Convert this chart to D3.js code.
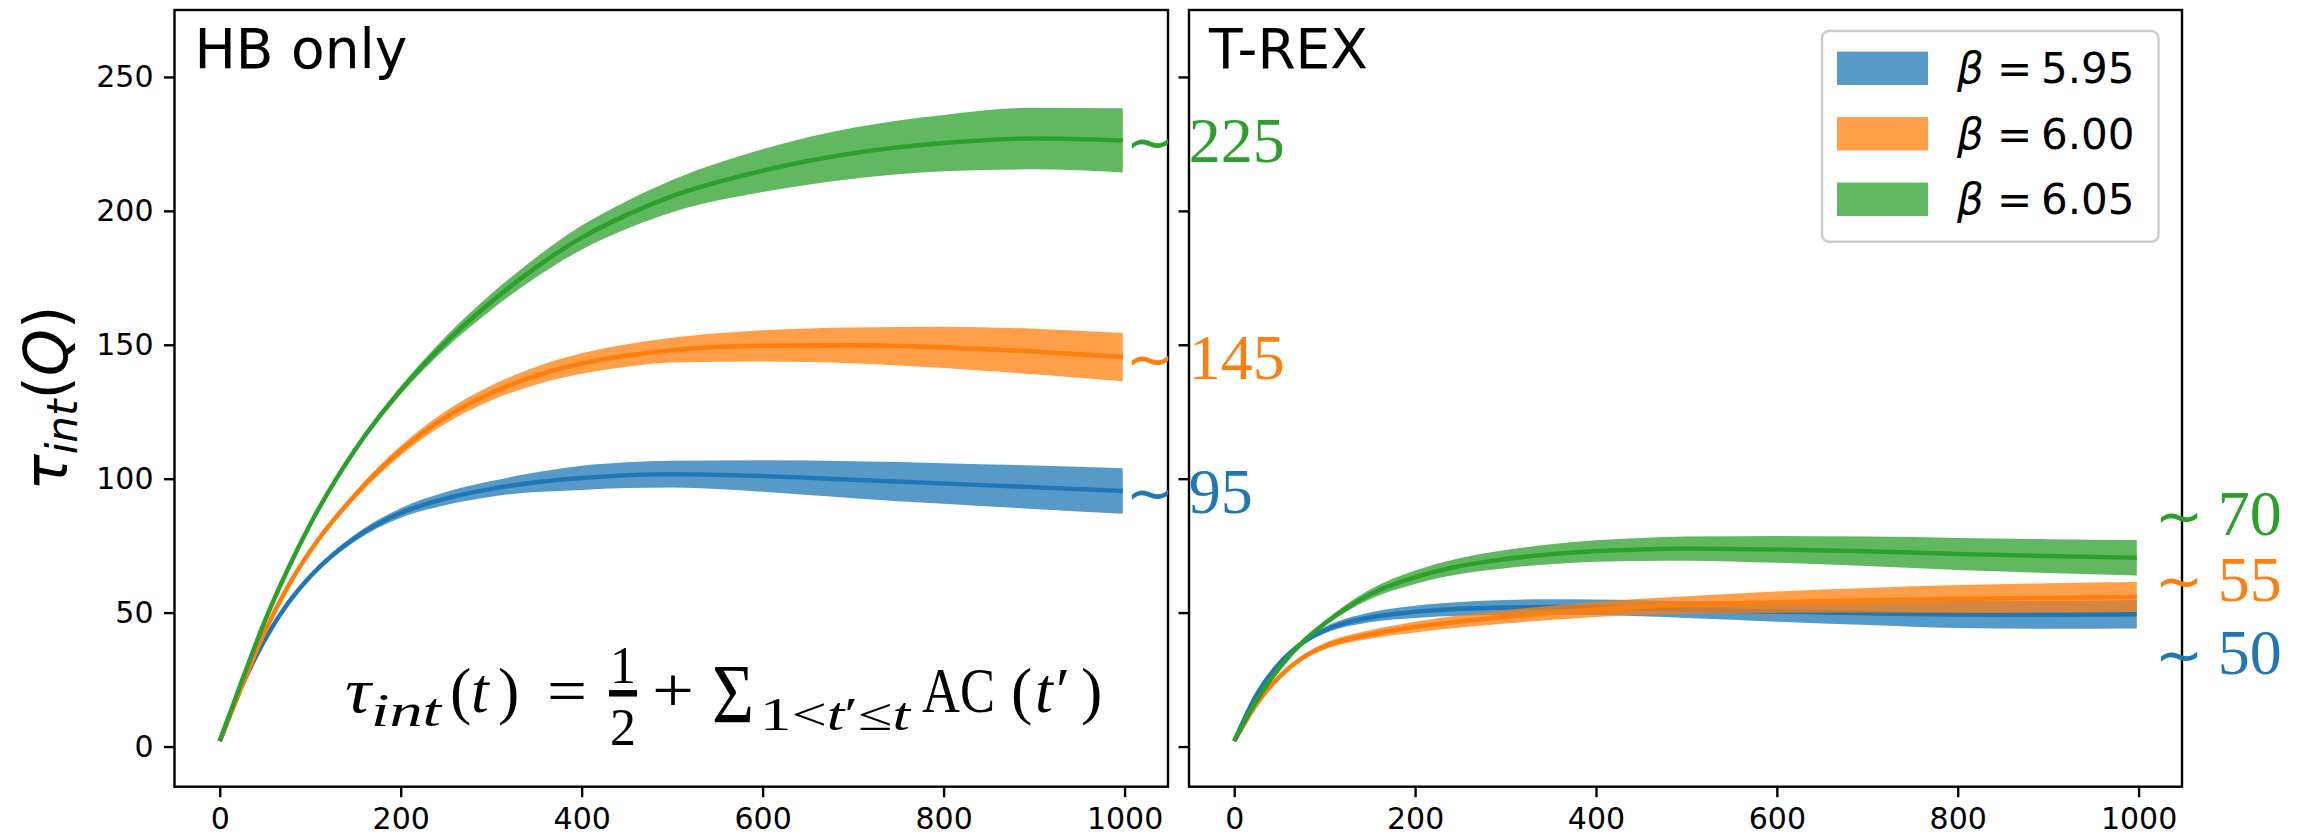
<!DOCTYPE html>
<html>
<head>
<meta charset="utf-8">
<script src="https://cdn.jsdelivr.net/npm/d3@7"></script>
<style>
  body { margin: 0; background: white; }
  svg { display: block; }
</style>
</head>
<body>
<svg id="chart"></svg>
<script>
const steps = [0, 25, 50, 75, 100, 150, 200, 250, 300, 350, 400, 450, 500, 600, 700, 800, 900, 998]

const betas = ["5.95", "6.00", "6.05"]
const colors = ["#1f77b4", "#ff7f0e", "#2ca02c"]

// HB only
const hbBlue = [2, 23, 40, 53.3, 63.5, 78, 87.2, 92.6, 96.2, 98.7, 100.3, 101.3, 101.7, 101, 99.6, 98.2, 96.8, 95.4]
const hbBlueErr = [0, 0.2, 0.3, 0.5, 0.8, 1.3, 1.8, 2.4, 2.9, 3.7, 4.5, 4.8, 5, 5.9, 6.9, 7.6, 8.1, 8.5]
const hbOrange = [2, 23, 43, 59.5, 73, 94, 110.5, 123, 132, 138.5, 143, 146, 148, 149.6, 149.8, 149, 147.5, 145.4]
const hbOrangeErr = [0, 0.2, 0.3, 0.5, 0.8, 1.3, 1.8, 2.3, 2.8, 3.3, 3.8, 4.2, 4.6, 5.8, 6.7, 7.7, 8.5, 9]
const hbGreen = [2, 25, 47, 66, 83, 111, 133, 151, 166, 179, 190, 198.5, 205.5, 215, 221.5, 225.3, 227, 226.3]
const hbGreenErr = [0, 0.2, 0.3, 0.4, 0.5, 1, 1.5, 2.2, 3, 3.7, 4.5, 5.2, 6, 8, 9.5, 10.5, 11.5, 12]

// T-REX
const trexBlue = [2, 19.5, 31, 38.6, 43.4, 48.2, 50.3, 51.4, 51.9, 52.1, 52, 51.6, 51.1, 50.4, 49.8, 49.3, 49.2, 49.4]
const trexBlueErr = [0, 0.3, 0.6, 0.9, 1.2, 1.8, 2.3, 2.6, 2.8, 2.9, 2.9, 3, 3.1, 3.8, 4.4, 5, 5.2, 5.3]
const trexOrange = [2, 16, 26, 33, 37.4, 41.8, 44.6, 46.7, 48.4, 49.9, 51.2, 52.2, 52.9, 53.9, 54.6, 55.1, 55.5, 55.8]
const trexOrangeErr = [0, 0.3, 0.6, 0.9, 1.2, 1.6, 2, 2.3, 2.5, 2.7, 2.8, 3, 3.2, 4, 4.6, 5.2, 5.5, 5.6]
const trexGreen = [2, 17.3, 29.4, 38.8, 45.9, 56.8, 63.2, 67.4, 70, 71.8, 73, 73.6, 73.9, 73.6, 72.9, 71.9, 71.1, 70.5]
const trexGreenErr = [0, 0.3, 0.5, 0.8, 1, 1.8, 2.5, 3, 3.4, 3.7, 4, 4.3, 4.5, 5, 5.5, 6, 6.3, 6.6]

// plateau labels
const hbLabels = ["95", "145", "225"]
const trexLabels = ["50", "55", "70"]
const trexLabelAt = [35, 62.5, 87]

const xTicks = [0, 200, 400, 600, 800, 1000]
const yTicks = [0, 50, 100, 150, 200, 250]

const w = 2306
const h = 837
const plotTop = 10
const plotBottom = 786.7

const svg = d3.select("#chart").attr("width", w).attr("height", h)
svg.append("rect").attr("width", w).attr("height", h).attr("fill", "white")

const yScale = d3.scaleLinear().domain([-15, 275]).range([plotBottom, plotTop])

const toSeries = (vals, errs) => steps.map((t, i) => ({ t: t, v: vals[i], e: errs[i] }))

const panels = [
  {
    title: "HB only",
    x0: 174.5,
    x1: 1168,
    showY: true,
    series: [toSeries(hbBlue, hbBlueErr), toSeries(hbOrange, hbOrangeErr), toSeries(hbGreen, hbGreenErr)],
  },
  {
    title: "T-REX",
    x0: 1189,
    x1: 2182,
    showY: false,
    series: [toSeries(trexBlue, trexBlueErr), toSeries(trexOrange, trexOrangeErr), toSeries(trexGreen, trexGreenErr)],
  },
]

const tickFont = "'DejaVu Sans', sans-serif"
const serif = "'Liberation Serif', 'Times New Roman', serif"

panels.forEach((p) => {
  p.xScale = d3.scaleLinear().domain([-50, 1048]).range([p.x0, p.x1])
  const g = svg.append("g")

  const area = d3
    .area()
    .x((d) => p.xScale(d.t))
    .y0((d) => yScale(d.v - d.e))
    .y1((d) => yScale(d.v + d.e))
    .curve(d3.curveMonotoneX)
  const line = d3
    .line()
    .x((d) => p.xScale(d.t))
    .y((d) => yScale(d.v))
    .curve(d3.curveMonotoneX)

  p.series.forEach((s, i) => {
    g.append("path").attr("d", area(s)).attr("fill", colors[i]).attr("fill-opacity", 0.75)
    g.append("path")
      .attr("d", line(s))
      .attr("fill", "none")
      .attr("stroke", colors[i])
      .attr("stroke-width", 4.5)
  })

  // axes
  const xAxis = d3
    .axisBottom(p.xScale)
    .tickValues(xTicks)
    .tickSize(10.5)
    .tickPadding(10.5)
    .tickFormat(d3.format("d"))
  const yAxis = d3
    .axisLeft(yScale)
    .tickValues(yTicks)
    .tickSize(10.5)
    .tickPadding(10.5)
    .tickFormat(p.showY ? d3.format("d") : () => "")

  const gx = g.append("g").attr("transform", `translate(0,${plotBottom})`).call(xAxis)
  const gy = g.append("g").attr("transform", `translate(${p.x0},0)`).call(yAxis)
  ;[gx, gy].forEach((a) => {
    a.select(".domain").remove()
    a.selectAll("line").attr("stroke", "black").attr("stroke-width", 2.4)
    a.selectAll("text").attr("font-family", tickFont).attr("font-size", 30).attr("fill", "black")
  })

  // frame
  g.append("rect")
    .attr("x", p.x0)
    .attr("y", plotTop)
    .attr("width", p.x1 - p.x0)
    .attr("height", plotBottom - plotTop)
    .attr("fill", "none")
    .attr("stroke", "black")
    .attr("stroke-width", 2.4)

  g.append("text")
    .attr("x", p.x0 + 20)
    .attr("y", 68.3)
    .attr("font-family", tickFont)
    .attr("font-size", 55)
    .text(p.title)
})

// y label
const ylab = svg
  .append("text")
  .attr("transform", "translate(67,398) rotate(-90)")
  .attr("text-anchor", "middle")
  .attr("font-family", tickFont)
  .attr("font-size", 60)
ylab.append("tspan").attr("font-style", "italic").text("τ")
ylab.append("tspan").attr("font-style", "italic").attr("font-size", 42).attr("dy", 10).text("int")
ylab.append("tspan").attr("dy", -10).text("(")
ylab.append("tspan").attr("font-style", "italic").text("Q")
ylab.append("tspan").text(")")

// "~ value" labels
const addLabel = (xLeft, yc, color, txt) => {
  svg.append("text")
    .attr("x", xLeft - 6)
    .attr("y", yc + 22)
    .attr("font-family", "'DejaVu Sans', sans-serif")
    .attr("font-size", 58)
    .attr("fill", color)
    .text("∼")
  svg.append("text")
    .attr("x", xLeft + 57)
    .attr("y", yc + 21.6)
    .attr("font-family", serif)
    .attr("font-size", 64)
    .attr("fill", color)
    .text(txt)
}
const hb = panels[0]
const tr = panels[1]
hbLabels.forEach((txt, i) => {
  const s = hb.series[i]
  addLabel(hb.xScale(1008), yScale(s[s.length - 1].v), colors[i], txt)
})
trexLabels.forEach((txt, i) => {
  addLabel(tr.xScale(1024.5), yScale(trexLabelAt[i]), colors[i], txt)
})

// formula in the HB panel
const eq = svg.append("g").attr("font-family", serif).attr("fill", "black")
const piece = (x, yb, size, txt, italic, len) => {
  const t = eq.append("text")
    .attr("x", x)
    .attr("y", yb)
    .attr("font-size", size)
    .attr("font-style", italic ? "italic" : "normal")
    .text(txt)
  if (len) t.attr("textLength", len).attr("lengthAdjust", "spacingAndGlyphs")
  return t
}
piece(345, 712, 64, "τ", true, 26)
piece(371, 726, 46, "int", true, 70)
piece(450, 712, 64, "(", false)
piece(471, 712, 64, "t", true)
piece(498, 712, 64, ")", false)
piece(547, 712, 64, "=", false, 40)
piece(610, 683, 52, "1", false)
eq.append("line").attr("x1", 609).attr("x2", 637).attr("y1", 693.3).attr("y2", 693.3)
  .attr("stroke", "black").attr("stroke-width", 6.5)
piece(610, 745, 52, "2", false)
piece(652, 712, 64, "+", false, 42)
piece(712, 723, 84, "Σ", false, 42)
const sub = piece(760, 730, 46, "", false, 150)
sub.append("tspan").text("1<")
sub.append("tspan").attr("font-style", "italic").text("t")
sub.append("tspan").text("′≤")
sub.append("tspan").attr("font-style", "italic").text("t")
piece(922, 712, 64, "AC", false, 73)
piece(1011, 712, 64, "(", false)
piece(1035, 712, 64, "t", true)
piece(1056, 712, 64, "′", false)
piece(1081, 712, 64, ")", false)

// legend
const lg = svg.append("g")
lg.append("rect")
  .attr("x", 1822)
  .attr("y", 31)
  .attr("width", 336.5)
  .attr("height", 210.7)
  .attr("rx", 7)
  .attr("fill", "white")
  .attr("fill-opacity", 0.8)
  .attr("stroke", "#cccccc")
  .attr("stroke-width", 2.4)
betas.forEach((b, i) => {
  const cy = 68.3 + i * 65.5
  lg.append("rect")
    .attr("x", 1837)
    .attr("y", cy - 16.7)
    .attr("width", 91)
    .attr("height", 33.4)
    .attr("fill", colors[i])
    .attr("fill-opacity", 0.75)
  const t = lg.append("text").attr("y", cy + 15).attr("font-family", tickFont).attr("font-size", 42)
  t.append("tspan").attr("x", 1957).attr("font-style", "italic").text("β")
  t.append("tspan").attr("x", 1997).text("=")
  t.append("tspan").attr("x", 2041).text(b)
})
</script>
</body>
</html>
